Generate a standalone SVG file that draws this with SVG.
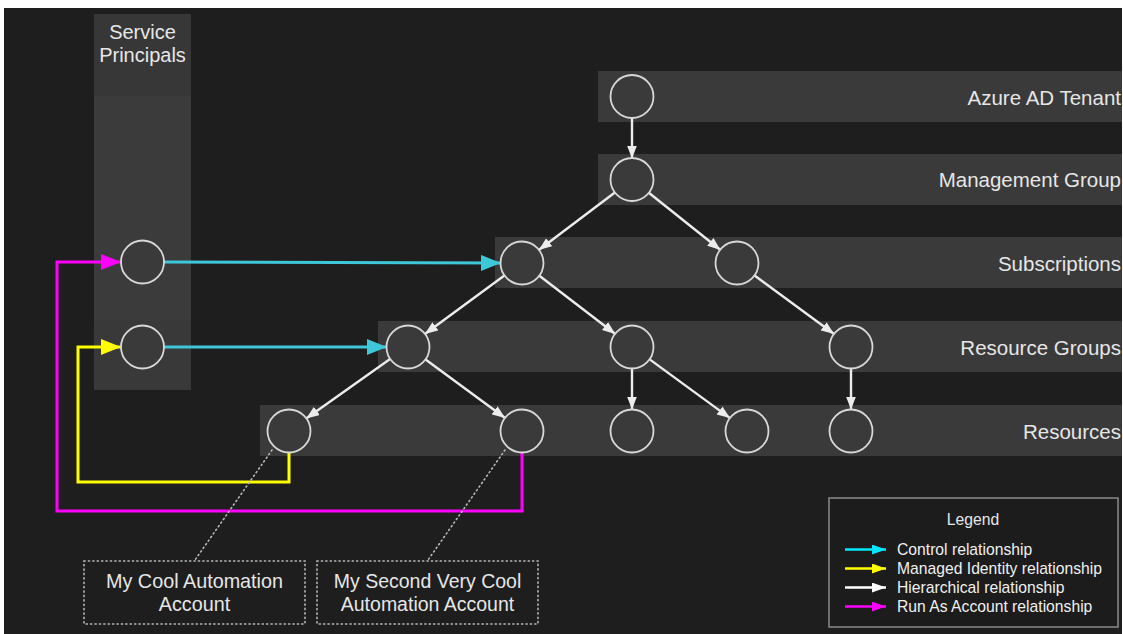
<svg xmlns="http://www.w3.org/2000/svg" width="1123" height="634" viewBox="0 0 1123 634">
<style>
.band{fill:#3a3a3a}
.node{fill:#3a3a3a;stroke:#d8d8d8;stroke-width:1.8}
.lbl{font-family:"Liberation Sans",Arial,sans-serif;font-size:20.5px;fill:#e6e6e6;text-anchor:end}
.ctr{font-family:"Liberation Sans",Arial,sans-serif;fill:#e6e6e6;text-anchor:middle}
.h{stroke:#ececec;stroke-width:2.4;fill:none;marker-end:url(#mw)}
.dot{stroke:#b8b8b8;stroke-width:1.6;fill:none;stroke-dasharray:1.2 3.2;stroke-linecap:round}
.lg{font-family:"Liberation Sans",Arial,sans-serif;font-size:15.7px;fill:#f0f0f0}
</style>
<defs>
<marker id="mw" markerUnits="userSpaceOnUse" markerWidth="14" markerHeight="11" refX="13" refY="5" orient="auto"><path d="M0,0 L13,5 L0,10 z" fill="#ececec"/></marker>
<marker id="mc" markerUnits="userSpaceOnUse" markerWidth="21" markerHeight="17" refX="20" refY="8" orient="auto"><path d="M0,0 L20,8 L0,16 z" fill="#3ec6d9"/></marker>
<marker id="mm" markerUnits="userSpaceOnUse" markerWidth="21" markerHeight="17" refX="20" refY="8" orient="auto"><path d="M0,0 L20,8 L0,16 z" fill="#ff00ff"/></marker>
<marker id="my" markerUnits="userSpaceOnUse" markerWidth="21" markerHeight="17" refX="20" refY="8" orient="auto"><path d="M0,0 L20,8 L0,16 z" fill="#ffff00"/></marker>
<marker id="lc" markerUnits="userSpaceOnUse" markerWidth="15" markerHeight="11" refX="14" refY="5" orient="auto"><path d="M0,0 L14,5 L0,10 z" fill="#00e8ff"/></marker>
<marker id="ly" markerUnits="userSpaceOnUse" markerWidth="15" markerHeight="11" refX="14" refY="5" orient="auto"><path d="M0,0 L14,5 L0,10 z" fill="#ffff00"/></marker>
<marker id="lw" markerUnits="userSpaceOnUse" markerWidth="15" markerHeight="11" refX="14" refY="5" orient="auto"><path d="M0,0 L14,5 L0,10 z" fill="#ffffff"/></marker>
<marker id="lm" markerUnits="userSpaceOnUse" markerWidth="15" markerHeight="11" refX="14" refY="5" orient="auto"><path d="M0,0 L14,5 L0,10 z" fill="#ff00ff"/></marker>
</defs>
<rect x="0" y="0" width="1123" height="634" fill="#ffffff"/>
<rect x="4" y="8" width="1118" height="626" fill="#1e1e1e"/>

<g id="lanes">
<rect x="94" y="14" width="97" height="82" fill="#373737"/>
<rect x="94" y="96" width="97" height="225" fill="#3b3b3b"/>
<rect x="94" y="321" width="97" height="69" fill="#393939"/>
<text class="ctr" x="142.5" y="39" font-size="20">Service</text>
<text class="ctr" x="142.5" y="61.5" font-size="20">Principals</text>
<rect class="band" x="598" y="71" width="524" height="51"/>
<rect class="band" x="598" y="154" width="524" height="51"/>
<rect class="band" x="495" y="237" width="627" height="51"/>
<rect class="band" x="378" y="321" width="744" height="51"/>
<rect class="band" x="260" y="405" width="862" height="51"/>
<text class="lbl" x="1121" y="105">Azure AD Tenant</text>
<text class="lbl" x="1121" y="187">Management Group</text>
<text class="lbl" x="1121" y="271">Subscriptions</text>
<text class="lbl" x="1121" y="355">Resource Groups</text>
<text class="lbl" x="1121" y="439">Resources</text>
</g>

<g id="connectors">
<line class="h" x1="632" y1="118" x2="632" y2="158.5"/>
<line class="h" x1="615.2" y1="192.2" x2="538.8" y2="250"/>
<line class="h" x1="648.5" y1="192.5" x2="720.5" y2="250"/>
<line class="h" x1="505.1" y1="275" x2="424.9" y2="334"/>
<line class="h" x1="538.7" y1="275.2" x2="615.3" y2="334"/>
<line class="h" x1="753.9" y1="275" x2="834.1" y2="334"/>
<line class="h" x1="390.8" y1="358.6" x2="306.2" y2="418.4"/>
<line class="h" x1="424.9" y1="359" x2="505.1" y2="418"/>
<line class="h" x1="632" y1="368" x2="632" y2="409.5"/>
<line class="h" x1="649" y1="358.9" x2="730" y2="418.1"/>
<line class="h" x1="851" y1="368" x2="851" y2="409.5"/>
<line x1="163.5" y1="262" x2="501" y2="263" stroke="#3ec6d9" stroke-width="3" marker-end="url(#mc)"/>
<line x1="163.5" y1="347" x2="387" y2="347" stroke="#3ec6d9" stroke-width="3" marker-end="url(#mc)"/>
<path d="M522,452 V511 H57 V262 H121" fill="none" stroke="#ff00ff" stroke-width="3" marker-end="url(#mm)"/>
<path d="M289,452 V482 H78 V347 H121" fill="none" stroke="#ffff00" stroke-width="3" marker-end="url(#my)"/>
<line class="dot" x1="272" y1="450" x2="195" y2="560"/>
<line class="dot" x1="505" y1="450" x2="428" y2="560"/>
</g>

<g id="sp1"><circle class="node" cx="142.5" cy="262" r="21.5"/></g>
<g id="sp2"><circle class="node" cx="142.5" cy="347" r="21.5"/></g>
<g id="tenant"><circle class="node" cx="632" cy="96.5" r="21.5"/></g>
<g id="mg"><circle class="node" cx="632" cy="179.5" r="21.5"/></g>
<g id="sub1"><circle class="node" cx="522" cy="263" r="21.5"/></g>
<g id="sub2"><circle class="node" cx="737" cy="263" r="21.5"/></g>
<g id="rg1"><circle class="node" cx="408" cy="347" r="21.5"/></g>
<g id="rg2"><circle class="node" cx="632" cy="347" r="21.5"/></g>
<g id="rg3"><circle class="node" cx="851" cy="347" r="21.5"/></g>
<g id="res1"><circle class="node" cx="289" cy="431" r="21.5"/></g>
<g id="res2"><circle class="node" cx="522" cy="431" r="21.5"/></g>
<g id="res3"><circle class="node" cx="632" cy="431" r="21.5"/></g>
<g id="res4"><circle class="node" cx="747" cy="431" r="21.5"/></g>
<g id="res5"><circle class="node" cx="851" cy="431" r="21.5"/></g>

<g id="note1">
<rect class="dot" x="84" y="561" width="221" height="63"/>
<text class="ctr" x="194.5" y="588" font-size="19.8">My Cool Automation</text>
<text class="ctr" x="194.5" y="611" font-size="19.8">Account</text>
</g>
<g id="note2">
<rect class="dot" x="317" y="561" width="221" height="63"/>
<text class="ctr" x="427.5" y="588" font-size="19.5">My Second Very Cool</text>
<text class="ctr" x="427.5" y="611" font-size="19.5">Automation Account</text>
</g>

<g id="legend">
<rect x="829" y="498" width="289" height="129" fill="#1c1c1c" stroke="#8a8a8a" stroke-width="1.5"/>
<text class="ctr" x="973" y="525" font-size="15.7" fill="#f0f0f0">Legend</text>
<line x1="845" y1="549.5" x2="886" y2="549.5" stroke="#00e8ff" stroke-width="2.5" marker-end="url(#lc)"/>
<line x1="845" y1="568.5" x2="886" y2="568.5" stroke="#ffff00" stroke-width="2.5" marker-end="url(#ly)"/>
<line x1="845" y1="587.5" x2="886" y2="587.5" stroke="#ffffff" stroke-width="2.5" marker-end="url(#lw)"/>
<line x1="845" y1="606.5" x2="886" y2="606.5" stroke="#ff00ff" stroke-width="2.5" marker-end="url(#lm)"/>
<text class="lg" x="897" y="555">Control relationship</text>
<text class="lg" x="897" y="574">Managed Identity relationship</text>
<text class="lg" x="897" y="593">Hierarchical relationship</text>
<text class="lg" x="897" y="612">Run As Account relationship</text>
</g>
</svg>
